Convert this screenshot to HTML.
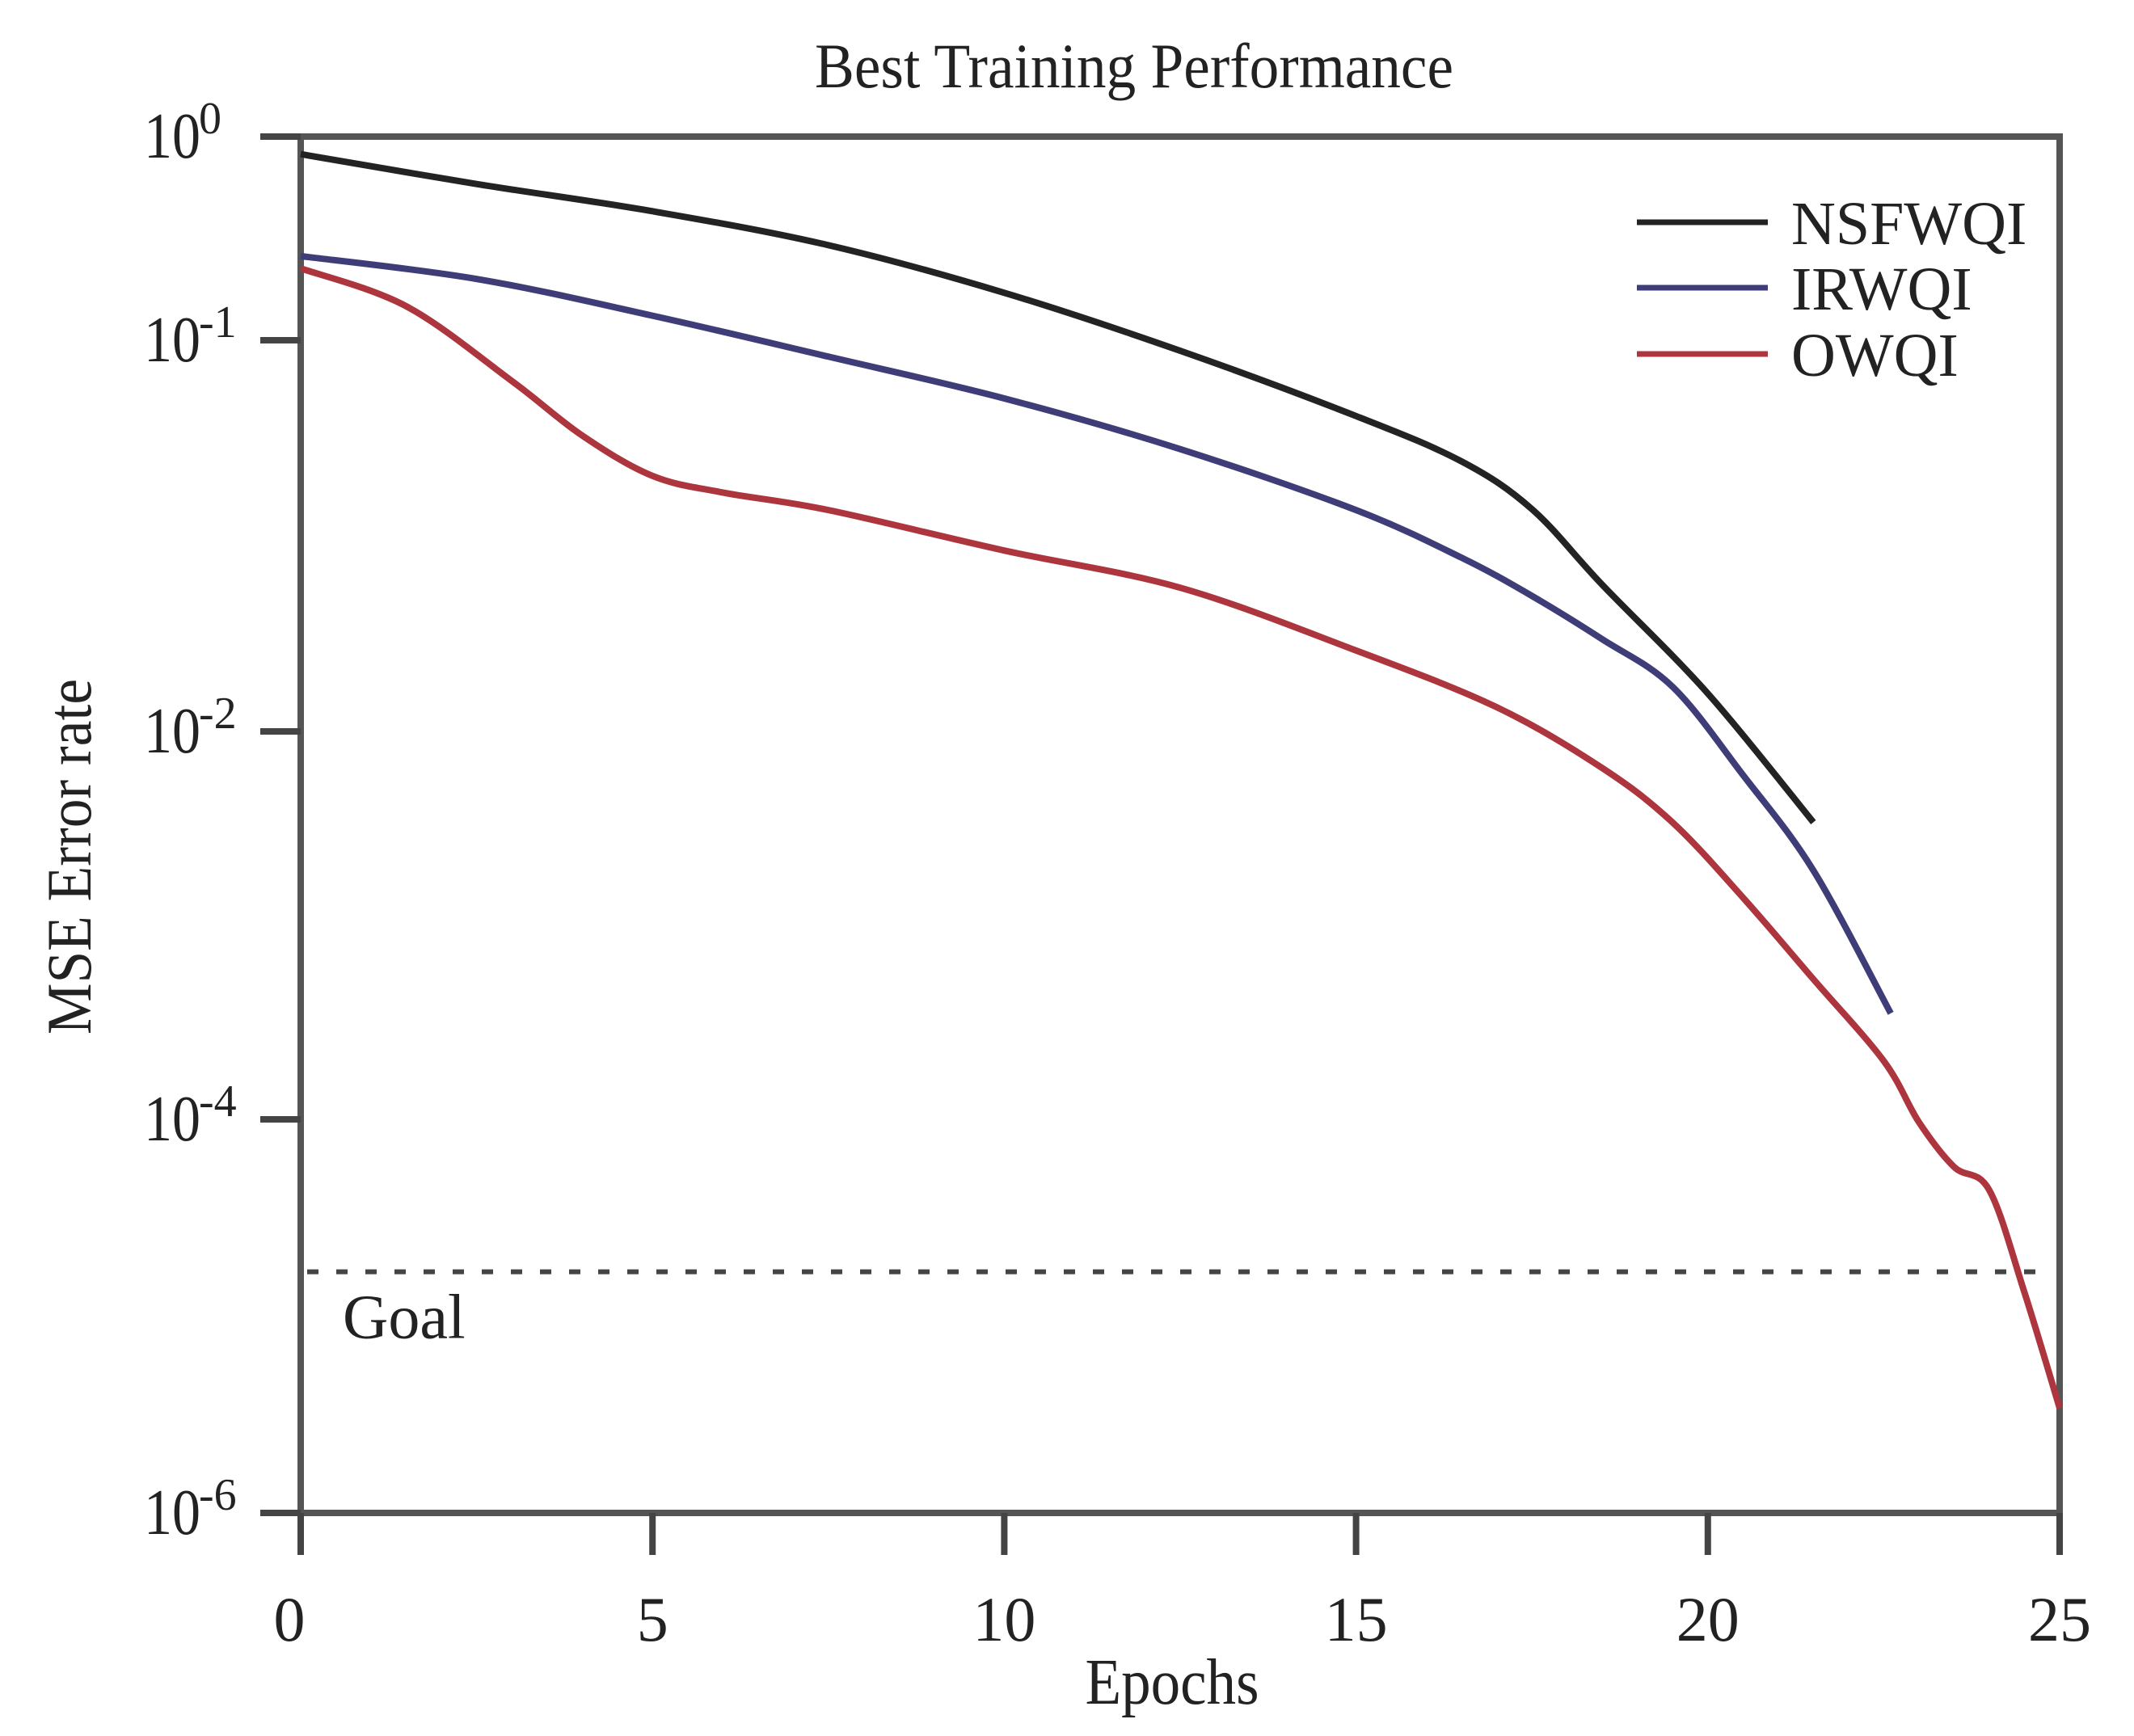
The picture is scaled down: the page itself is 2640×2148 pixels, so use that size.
<!DOCTYPE html>
<html><head><meta charset="utf-8"><style>
html,body{margin:0;padding:0;background:#fff;}
svg{display:block;font-family:"Liberation Serif",serif;}
</style></head><body>
<svg id="chart" width="2640" height="2148" viewBox="0 0 2640 2148" xmlns="http://www.w3.org/2000/svg">
<text x="1008" y="108" font-size="78" textLength="790" lengthAdjust="spacingAndGlyphs" fill="#222">Best Training Performance</text>
<g id="plot"></g>
<text x="1450" y="2108" font-size="80" text-anchor="middle" textLength="215" lengthAdjust="spacingAndGlyphs" fill="#222">Epochs</text>
<text transform="translate(112,1060) rotate(-90)" font-size="78" text-anchor="middle" textLength="440" lengthAdjust="spacingAndGlyphs" fill="#222">MSE Error rate</text>
</svg>
<script>
const epochsBlack=[0,2.5,5,7.5,10,12.5,15,16.5,17.5,18.5,20,21.5];
const nsfwqi=[0.82,0.585,0.43,0.293,0.171,0.094,0.064,0.049,0.037,0.0237,0.0125,0.0034];
const epochsBlue=[0,2.5,5,7.5,10,12.5,15,16.5,17.5,18.5,19.5,20.5,21.5,22.6];
const irwqi=[0.259,0.2,0.132,0.0908,0.071,0.0527,0.0368,0.0278,0.0222,0.0172,0.013,0.00596,0.00192,0.000352];
const epochsRed=[0,1.5,3,4,5,6,7.5,10,12.5,15,17,18.5,19.5,20.5,21.5,22.5,23,23.5,24,24.5,25];
const owqi=[0.2254,0.1469,0.0787,0.0571,0.045,0.0408,0.0368,0.029,0.0233,0.0161,0.01153,0.00647,0.00339,0.00139,0.000528,0.0002,9.68e-5,5.73e-5,4.37e-5,1.32e-5,3.41e-6];
const goalValue=1.68e-5;
const xTicks=[0,5,10,15,20,25];
const yTickExps=[0,-1,-2,-4,-6];

const NS="http://www.w3.org/2000/svg";
const plot=document.getElementById('plot');
const L=372,R=2548,T=169,B=1872;
const yTickPix=[169,421,905,1385,1872];
function xs(e){return L+(R-L)*e/25;}
function ys(v){const lg=Math.log10(v);
  for(let i=0;i<yTickExps.length-1;i++){const a=yTickExps[i],b=yTickExps[i+1];
    if(lg<=a&&lg>=b)return yTickPix[i]+(yTickPix[i+1]-yTickPix[i])*(a-lg)/(a-b);}
  return lg>0?T:B;}
function mk(tag,attrs){const el=document.createElementNS(NS,tag);for(const k in attrs)el.setAttribute(k,attrs[k]);plot.appendChild(el);return el;}
function smooth(pts){let d=`M${pts[0][0]},${pts[0][1]}`;
  for(let i=0;i<pts.length-1;i++){const p0=pts[Math.max(0,i-1)],p1=pts[i],p2=pts[i+1],p3=pts[Math.min(pts.length-1,i+2)];
    const c1=[p1[0]+(p2[0]-p0[0])/6,p1[1]+(p2[1]-p0[1])/6],c2=[p2[0]-(p3[0]-p1[0])/6,p2[1]-(p3[1]-p1[1])/6];
    d+=` C${c1[0]},${c1[1]} ${c2[0]},${c2[1]} ${p2[0]},${p2[1]}`;}
  return d;}
let fr=mk('rect',{x:L,y:T,width:R-L,height:B-T,fill:'none',stroke:'#555',"stroke-width":8});


yTickExps.forEach((ex,i)=>{const y=yTickPix[i];
  const t=mk('line',{x1:322,x2:L,y1:y,y2:y,stroke:'#444',"stroke-width":8});
  
  
  const tx=mk('text',{x:178,y:y+26,"font-size":80,fill:'#222',textLength:70,lengthAdjust:'spacingAndGlyphs'});
  
  
  tx.textContent='10';
  const sp=mk('text',{x:246,y:y-4,"font-size":56,fill:'#222'});
  
  
  sp.textContent=String(ex);
});
xTicks.forEach(v=>{const x=xs(v);
  const t=mk('line',{x1:x,x2:x,y1:B,y2:1924,stroke:'#444',"stroke-width":8});
  
  
  const tx=mk('text',{x:x-(v===0?14:0),y:2030,"font-size":78,"text-anchor":'middle',fill:'#222'});
  
  
  tx.textContent=String(v);
});
const gy=ys(goalValue);
const gl=mk('line',{x1:L+8,x2:R-8,y1:gy,y2:gy,stroke:'#444',"stroke-width":6,"stroke-dasharray":'14 22'});


const gt=mk('text',{x:424,y:gy+82,"font-size":78,fill:'#222'});


gt.textContent='Goal';
const series=[['nsfwqi-line',epochsBlack,nsfwqi,'#232323'],['irwqi-line',epochsBlue,irwqi,'#3e3d78'],['owqi-line',epochsRed,owqi,'#ad353d']];
series.forEach(s=>{const pts=s[1].map((e,i)=>[xs(e),ys(s[2][i])]);
  const p=mk('path',{d:smooth(pts),fill:'none',stroke:s[3],"stroke-width":8,"stroke-linejoin":'round'});
  
  
});
const legendNames=['NSFWQI','IRWQI','OWQI'];
const legendColors=['#232323','#3e3d78','#ad353d'];
const legendY=[275,356,438];
legendNames.forEach((n,i)=>{
  const l=mk('line',{x1:2025,x2:2187,y1:legendY[i],y2:legendY[i],stroke:legendColors[i],"stroke-width":7});
  
  
  const t=mk('text',{x:2216,y:legendY[i]+27,"font-size":76,fill:'#222'});
  
  
  t.textContent=n;
});
</script>
</body></html>
